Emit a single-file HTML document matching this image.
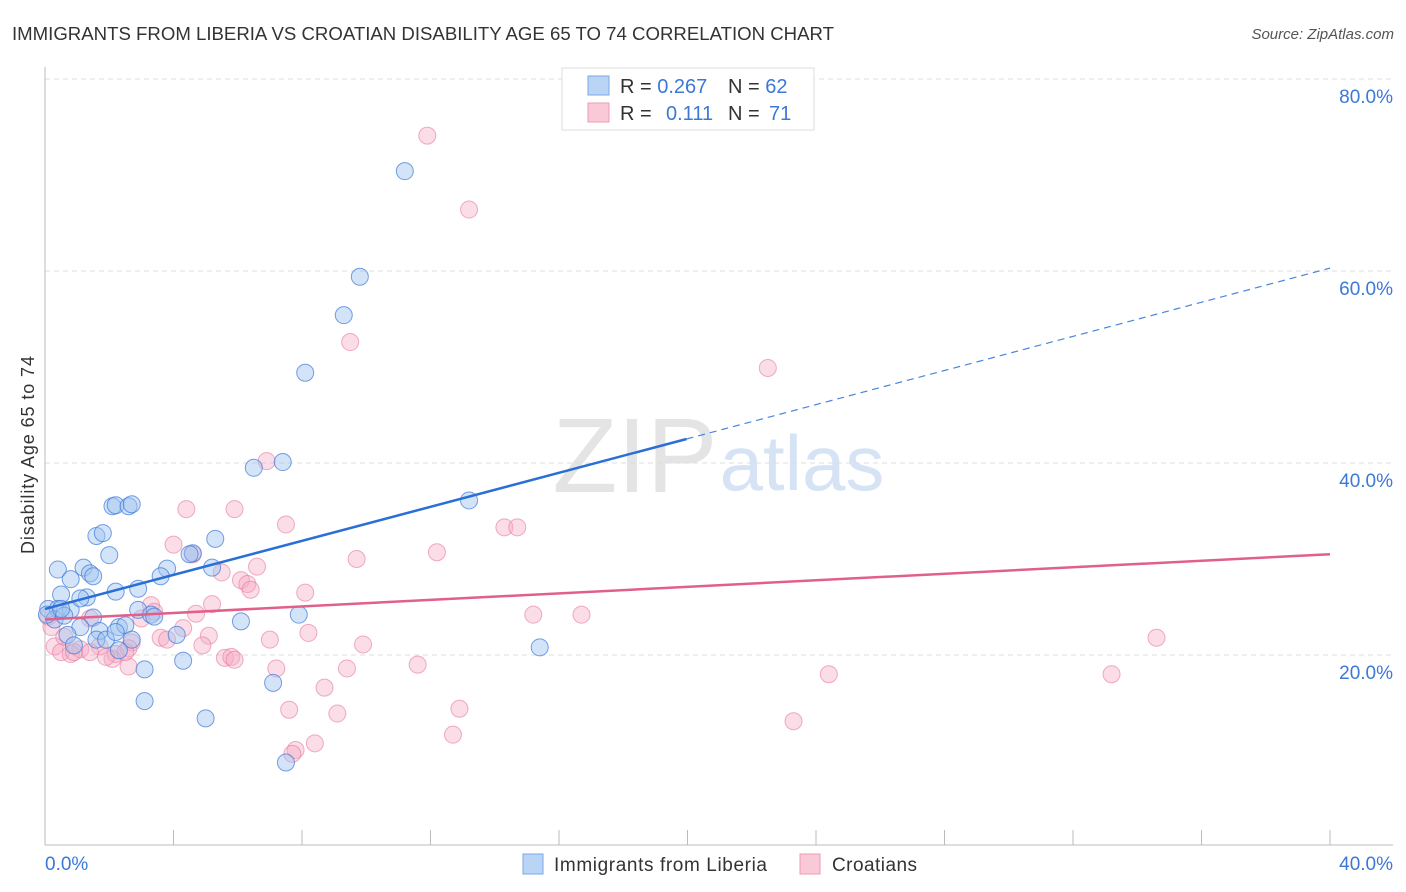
<!DOCTYPE html>
<html><head><meta charset="utf-8"><style>
body{margin:0;background:#fff;font-family:"Liberation Sans",sans-serif;}
#wrap{position:relative;width:1406px;height:892px;overflow:hidden;}
svg text{font-family:"Liberation Sans",sans-serif;}
</style></head><body>
<div id="wrap">
<svg id="chart" width="1406" height="892">
<text x="12" y="40" font-size="18" fill="#333" textLength="822" lengthAdjust="spacingAndGlyphs">IMMIGRANTS FROM LIBERIA VS CROATIAN DISABILITY AGE 65 TO 74 CORRELATION CHART</text>
<text x="1394" y="39" font-size="15" fill="#555" text-anchor="end" font-style="italic">Source: ZipAtlas.com</text>
<text x="635" y="492" font-size="106" fill="#e4e4e4" font-family="Liberation Serif" text-anchor="middle">ZIP</text>
<text x="802" y="490" font-size="78" fill="#d5e3f5" text-anchor="middle">atlas</text>
<text transform="translate(34,455) rotate(-90)" font-size="18" fill="#333" text-anchor="middle" textLength="198">Disability Age 65 to 74</text>
<g id="grid"></g><g id="axes"></g><g id="pts"></g><g id="lines"></g>
<g>
<rect x="562" y="68" width="252" height="62" fill="#fff" stroke="#ddd"/>
<rect x="588" y="76" width="21" height="19" fill="#b9d4f5" stroke="#7aa7e6"/>
<rect x="588" y="103" width="21" height="19" fill="#f9c9d8" stroke="#ef9ab5"/>
<text x="620" y="93" font-size="20" fill="#333">R = <tspan fill="#3c78d8">0.267</tspan></text>
<text x="728" y="93" font-size="20" fill="#333">N = <tspan fill="#3c78d8">62</tspan></text>
<text x="620" y="120" font-size="20" fill="#333">R =  <tspan fill="#3c78d8" x="666">0.111</tspan></text>
<text x="728" y="120" font-size="20" fill="#333">N =  <tspan fill="#3c78d8" x="769">71</tspan></text>
</g>
<g>
<rect x="523" y="854" width="20" height="20" fill="#b9d4f5" stroke="#7aa7e6"/>
<text x="554" y="871" font-size="19" fill="#333" textLength="213">Immigrants from Liberia</text>
<rect x="800" y="854" width="20" height="20" fill="#f9c9d8" stroke="#ef9ab5"/>
<text x="832" y="871" font-size="19" fill="#333" textLength="85">Croatians</text>
</g>
</svg>
</div>
<script>
const xTickLabels=["0.0%","40.0%"];
const yTicks=[20,40,60,80];
const yTickLabels=["20.0%","40.0%","60.0%","80.0%"];
const blueX=[9.8,9.3,11.2,8.1,7.4,6.5,13.2,2.1,2.2,2.6,2.7,1.6,1.8,5.3,2.0,4.6,0.4,1.2,1.4,1.5,3.8,3.6,5.2,0.8,2.9,2.2,0.5,1.3,0.1,0.4,0.8,2.9,3.3,3.4,7.9,6.1,0.3,1.5,1.1,2.3,2.5,1.7,4.1,0.7,1.6,1.9,0.9,2.3,2.7,15.4,4.3,3.1,7.1,3.1,5.0,7.5,0.06,1.1,0.6,4.5,0.5,2.2];
const blueY=[59.4,55.4,70.4,49.4,40.1,39.5,36.1,35.5,35.6,35.5,35.7,32.4,32.7,32.1,30.4,30.6,28.9,29.1,28.5,28.2,29.0,28.2,29.1,27.9,26.9,26.6,26.3,26.0,24.8,24.8,24.7,24.7,24.2,24.0,24.2,23.5,23.7,23.9,22.9,22.9,23.1,22.5,22.1,22.1,21.6,21.6,21.0,20.5,21.6,20.8,19.4,18.5,17.1,15.2,13.4,8.8,24.2,25.9,24.1,30.5,24.8,22.4];
const pinkX=[11.9,13.2,9.5,22.5,6.9,4.4,5.9,7.5,14.3,14.7,12.2,4.0,9.7,4.6,6.6,5.5,6.1,6.3,6.4,8.1,5.2,3.3,4.7,3.0,1.4,3.4,4.3,8.2,5.1,7.0,3.6,3.8,2.7,0.3,1.1,1.7,0.5,0.8,1.4,2.2,2.6,9.9,5.6,5.8,2.1,2.6,11.6,9.4,7.2,15.2,16.7,24.4,33.2,34.6,8.7,7.6,9.1,12.9,12.7,8.4,7.8,7.7,23.3,4.9,0.1,0.6,1.9,2.5,5.9,0.2,0.9];
const pinkY=[74.1,66.4,52.6,49.9,40.2,35.2,35.2,33.6,33.3,33.3,30.7,31.5,30.0,30.5,29.2,28.6,27.8,27.4,26.8,26.5,25.3,25.2,24.3,23.8,23.8,24.5,22.8,22.3,22.0,21.6,21.8,21.6,21.3,20.9,20.6,20.9,20.3,20.1,20.3,20.1,20.7,21.1,19.7,19.8,19.6,18.8,19.0,18.6,18.6,24.2,24.2,18.0,18.0,21.8,16.6,14.3,13.9,14.4,11.7,10.8,10.1,9.7,13.1,21.0,24.0,21.9,19.8,20.3,19.5,22.9,20.3];
const blueReg=[0,24.8,19.97,42.5,40,60.3];
const pinkReg=[0,23.7,40,30.5];
const NS='http://www.w3.org/2000/svg';
function X(v){return 45+v/40*1285;}
function Y(v){return 847-v*9.6;}
function mk(tag,attrs,parent){const e=document.createElementNS(NS,tag);for(const k in attrs)e.setAttribute(k,attrs[k]);parent.appendChild(e);return e;}
const grid=document.getElementById('grid'),axes=document.getElementById('axes'),pts=document.getElementById('pts'),lines=document.getElementById('lines');
yTicks.forEach((t,i)=>{
 const l=mk('line',{x1:45,x2:1393,y1:Y(t),y2:Y(t),stroke:'#ddd','stroke-dasharray':'5,4'},grid);
 
 
 const tx=mk('text',{x:1393,y:Y(t)+24,'font-size':19,fill:'#3c78d8','text-anchor':'end'},axes);
 tx.textContent=yTickLabels[i];
 
 
});
let a=mk('line',{x1:45,x2:45,y1:67,y2:845,stroke:'#bbb'},axes);


a=mk('line',{x1:45,x2:1393,y1:845,y2:845,stroke:'#bbb'},axes);


for(let i=1;i<=10;i++){
 const t=mk('line',{x1:X(i*4),x2:X(i*4),y1:830,y2:845,stroke:'#bbb'},axes);
 
 
}
[[0,'start',45],[40,'end',1393]].forEach((d,i)=>{
 const tx=mk('text',{x:d[2],y:870,'font-size':19,fill:'#3c78d8','text-anchor':d[1]},axes);
 tx.textContent=xTickLabels[i];
 
 
});
pinkX.forEach((v,i)=>{
 const c=mk('circle',{cx:X(v),cy:Y(pinkY[i]),r:8.5,fill:'rgba(246,170,195,0.4)',stroke:'rgba(232,120,155,0.6)','stroke-width':1},pts);
 
 
});
blueX.forEach((v,i)=>{
 const c=mk('circle',{cx:X(v),cy:Y(blueY[i]),r:8.5,fill:'rgba(160,195,240,0.45)',stroke:'rgba(60,120,216,0.7)','stroke-width':1},pts);
 
 
});
let l=mk('line',{x1:X(blueReg[0]),y1:Y(blueReg[1]),x2:X(blueReg[2]),y2:Y(blueReg[3]),stroke:'#2a6fd6','stroke-width':2.5},lines);


l=mk('line',{x1:X(blueReg[2]),y1:Y(blueReg[3]),x2:X(blueReg[4]),y2:Y(blueReg[5]),stroke:'#4a86dc','stroke-width':1.2,'stroke-dasharray':'7,5'},lines);


l=mk('line',{x1:X(pinkReg[0]),y1:Y(pinkReg[1]),x2:X(pinkReg[2]),y2:Y(pinkReg[3]),stroke:'#e0608a','stroke-width':2.5},lines);


</script>
</body></html>
